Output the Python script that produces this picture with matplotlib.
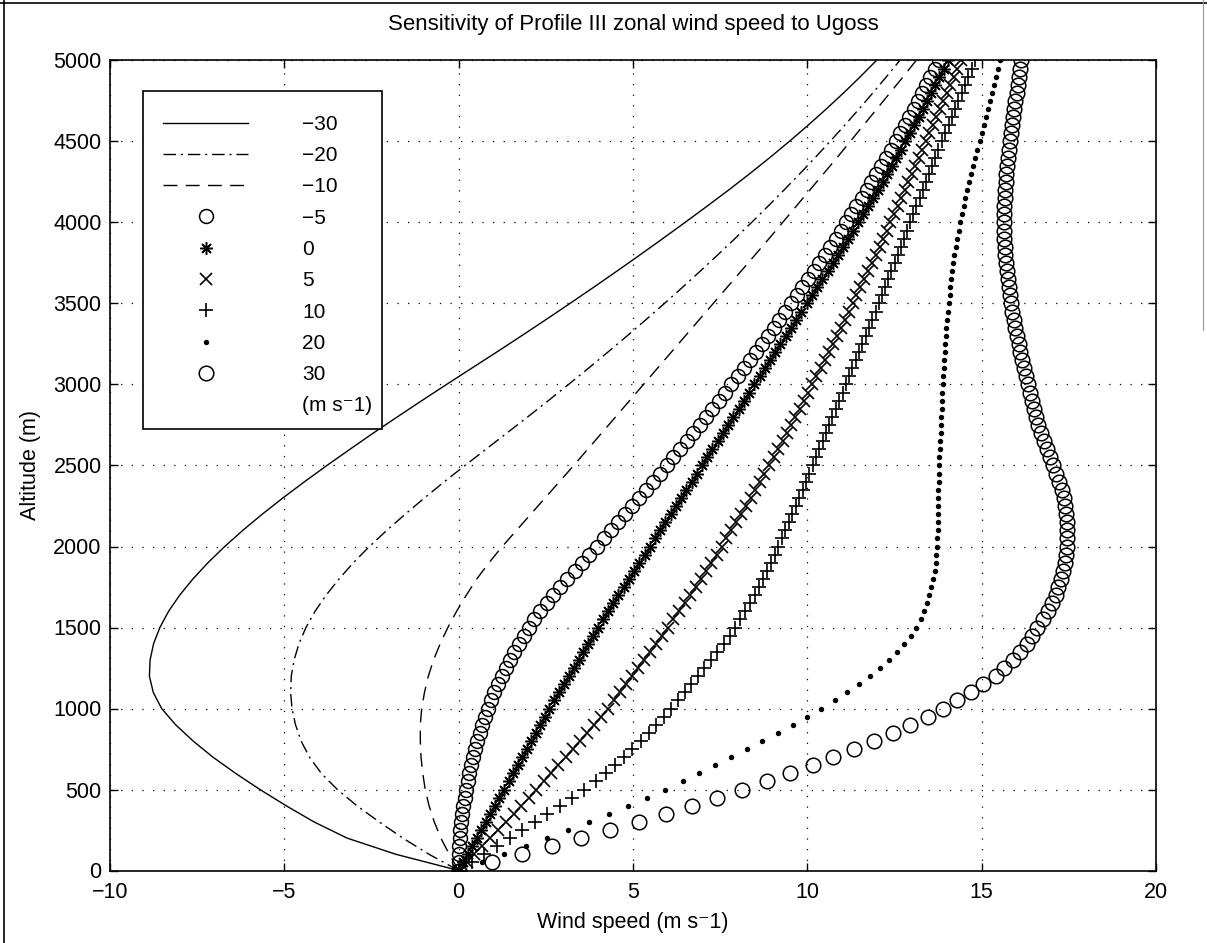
import numpy as np
import matplotlib
matplotlib.use("Agg")
import matplotlib.pyplot as plt
from matplotlib.lines import Line2D
from matplotlib.patches import Rectangle

plt.rcParams['font.family'] = ['Liberation Sans', 'DejaVu Sans']

# ---------------- data ----------------
# altitude levels (m)
alt_line = np.arange(0, 5001, 100)   # line series sampled every 100 m
alt_mark = np.arange(0, 5001, 50)    # marker series sampled every 50 m

u_m30 = [0, -1.8, -3.2, -4.15, -4.95, -5.7, -6.4, -7.05, -7.62, -8.12, -8.52,
         -8.76, -8.87, -8.85, -8.75, -8.57, -8.32, -8.0, -7.62, -7.19, -6.71,
         -6.19, -5.63, -5.04, -4.42, -3.78, -3.12, -2.45, -1.76, -1.06, -0.35,
         0.37, 1.09, 1.8, 2.5, 3.19, 3.87, 4.54, 5.2, 5.85, 6.49,
         7.12, 7.74, 8.34, 8.92, 9.48, 10.02, 10.54, 11.04, 11.52, 11.98]

u_m20 = [0, -0.85, -1.6, -2.28, -2.92, -3.48, -3.94, -4.28, -4.52, -4.68, -4.78,
         -4.82, -4.8, -4.72, -4.58, -4.38, -4.12, -3.8, -3.43, -3.02, -2.56,
         -2.06, -1.53, -0.98, -0.41, 0.18, 0.78, 1.38, 1.98, 2.57, 3.15,
         3.72, 4.28, 4.83, 5.37, 5.9, 6.42, 6.93, 7.43, 7.92, 8.4,
         8.87, 9.33, 9.78, 10.22, 10.65, 11.07, 11.48, 11.88, 12.27, 12.65]

u_m10 = [0, -0.27, -0.51, -0.7, -0.85, -0.96, -1.03, -1.08, -1.1, -1.1, -1.06,
         -0.98, -0.87, -0.72, -0.53, -0.31, -0.06, 0.22, 0.52, 0.87, 1.25,
         1.66, 2.07, 2.48, 2.89, 3.3, 3.7, 4.1, 4.5, 4.9, 5.3,
         5.7, 6.1, 6.5, 6.9, 7.3, 7.7, 8.1, 8.5, 8.9, 9.29,
         9.68, 10.07, 10.46, 10.85, 11.23, 11.61, 11.99, 12.37, 12.75, 13.12]

u_m5 = [0.0, 0.0, 0.01, 0.02, 0.03, 0.05, 0.07, 0.10, 0.13, 0.17,
        0.21, 0.26, 0.31, 0.36, 0.42, 0.48, 0.54, 0.61, 0.68, 0.76,
        0.84, 0.93, 1.02, 1.12, 1.23, 1.35, 1.47, 1.60, 1.73, 1.87,
        2.01, 2.17, 2.34, 2.52, 2.71, 2.91, 3.12, 3.33, 3.54, 3.75,
        3.96, 4.17, 4.38, 4.58, 4.78, 4.98, 5.18, 5.38, 5.58, 5.78,
        5.97, 6.16, 6.35, 6.54, 6.73, 6.92, 7.10, 7.28, 7.46, 7.64,
        7.82, 8.00, 8.18, 8.35, 8.52, 8.69, 8.86, 9.03, 9.20, 9.37,
        9.54, 9.70, 9.86, 10.02, 10.18, 10.34, 10.50, 10.66, 10.81, 10.96,
        11.11, 11.26, 11.41, 11.56, 11.70, 11.84, 11.98, 12.12, 12.26, 12.40,
        12.53, 12.66, 12.79, 12.92, 13.05, 13.17, 13.29, 13.41, 13.53, 13.65,
        13.77]

u_0 = [0, 0.13, 0.26, 0.39, 0.52, 0.65, 0.78, 0.91, 1.04, 1.17,
       1.30, 1.43, 1.56, 1.69, 1.82, 1.95, 2.08, 2.21, 2.34, 2.47,
       2.60, 2.74, 2.88, 3.02, 3.16, 3.30, 3.44, 3.58, 3.72, 3.86,
       4.00, 4.14, 4.28, 4.43, 4.58, 4.73, 4.88, 5.03, 5.18, 5.33,
       5.48, 5.63, 5.78, 5.93, 6.08, 6.23, 6.38, 6.53, 6.68, 6.83,
       6.98, 7.13, 7.28, 7.43, 7.58, 7.73, 7.88, 8.03, 8.18, 8.33,
       8.48, 8.63, 8.78, 8.93, 9.08, 9.23, 9.38, 9.53, 9.68, 9.83,
       9.98, 10.13, 10.28, 10.43, 10.58, 10.73, 10.88, 11.03, 11.18, 11.32,
       11.46, 11.60, 11.74, 11.88, 12.02, 12.16, 12.29, 12.42, 12.55, 12.68,
       12.81, 12.94, 13.07, 13.19, 13.31, 13.43, 13.55, 13.67, 13.79, 13.91,
       14.03]

u_5 = [0, 0.23, 0.45, 0.68, 0.90, 1.13, 1.35, 1.58, 1.80, 2.01,
       2.22, 2.44, 2.65, 2.86, 3.07, 3.28, 3.48, 3.68, 3.88, 4.08,
       4.27, 4.45, 4.63, 4.81, 4.98, 5.15, 5.32, 5.49, 5.66, 5.83,
       5.99, 6.16, 6.32, 6.48, 6.64, 6.80, 6.95, 7.10, 7.25, 7.40,
       7.54, 7.68, 7.82, 7.96, 8.10, 8.24, 8.37, 8.51, 8.64, 8.77,
       8.90, 9.03, 9.16, 9.29, 9.41, 9.54, 9.66, 9.78, 9.90, 10.02,
       10.14, 10.26, 10.38, 10.50, 10.61, 10.73, 10.84, 10.96, 11.07, 11.19,
       11.30, 11.41, 11.52, 11.63, 11.74, 11.85, 11.96, 12.07, 12.17, 12.28,
       12.38, 12.49, 12.59, 12.70, 12.80, 12.90, 13.00, 13.10, 13.20, 13.30,
       13.40, 13.50, 13.60, 13.70, 13.80, 13.90, 14.00, 14.10, 14.20, 14.30,
       14.40]

u_10 = [0, 0.37, 0.74, 1.10, 1.46, 1.82, 2.18, 2.54, 2.90, 3.25,
        3.60, 3.94, 4.22, 4.48, 4.73, 4.98, 5.22, 5.45, 5.67, 5.88,
        6.08, 6.28, 6.48, 6.67, 6.86, 7.05, 7.24, 7.42, 7.60, 7.77,
        7.93, 8.08, 8.22, 8.36, 8.49, 8.61, 8.73, 8.84, 8.95, 9.06,
        9.17, 9.27, 9.37, 9.47, 9.57, 9.67, 9.77, 9.87, 9.97, 10.06,
        10.15, 10.25, 10.34, 10.44, 10.53, 10.63, 10.72, 10.82, 10.91, 11.01,
        11.10, 11.20, 11.29, 11.39, 11.48, 11.58, 11.67, 11.77, 11.86, 11.96,
        12.05, 12.14, 12.23, 12.32, 12.41, 12.50, 12.59, 12.68, 12.77, 12.86,
        12.95, 13.04, 13.13, 13.22, 13.31, 13.40, 13.49, 13.58, 13.67, 13.76,
        13.85, 13.95, 14.05, 14.14, 14.24, 14.33, 14.43, 14.52, 14.62, 14.71,
        14.80]

u_20 = [0, 0.66, 1.31, 1.92, 2.54, 3.14, 3.73, 4.30, 4.86, 5.40,
        5.92, 6.42, 6.88, 7.34, 7.80, 8.26, 8.71, 9.15, 9.58, 10.00,
        10.40, 10.78, 11.14, 11.48, 11.79, 12.08, 12.34, 12.57, 12.78, 12.96,
        13.12, 13.26, 13.36, 13.44, 13.50, 13.56, 13.61, 13.65, 13.68, 13.70,
        13.72, 13.73, 13.74, 13.74, 13.75, 13.75, 13.76, 13.76, 13.77, 13.77,
        13.78, 13.79, 13.80, 13.81, 13.82, 13.83, 13.84, 13.85, 13.86, 13.87,
        13.88, 13.89, 13.91, 13.92, 13.94, 13.95, 13.97, 13.99, 14.01, 14.03,
        14.05, 14.08, 14.10, 14.13, 14.16, 14.19, 14.22, 14.26, 14.30, 14.34,
        14.38, 14.43, 14.48, 14.53, 14.58, 14.64, 14.70, 14.76, 14.82, 14.88,
        14.94, 15.00, 15.06, 15.12, 15.18, 15.24, 15.30, 15.36, 15.42, 15.48,
        15.54]

u_30 = [0, 0.95, 1.83, 2.69, 3.52, 4.35, 5.16, 5.94, 6.70, 7.42,
        8.14, 8.85, 9.50, 10.15, 10.75, 11.35, 11.90, 12.45, 12.95, 13.45,
        13.90, 14.30, 14.70, 15.05, 15.40, 15.65, 15.90, 16.10, 16.30, 16.45,
        16.60, 16.75, 16.90, 17.02, 17.12, 17.20, 17.27, 17.33, 17.38, 17.42,
        17.45, 17.46, 17.46, 17.45, 17.43, 17.40, 17.36, 17.29, 17.22, 17.14,
        17.06, 16.97, 16.88, 16.79, 16.71, 16.63, 16.56, 16.50, 16.44, 16.39,
        16.34, 16.28, 16.22, 16.16, 16.11, 16.06, 16.01, 15.96, 15.92, 15.88,
        15.85, 15.81, 15.78, 15.75, 15.72, 15.70, 15.68, 15.66, 15.65, 15.64,
        15.64, 15.64, 15.65, 15.66, 15.67, 15.69, 15.71, 15.73, 15.75, 15.78,
        15.81, 15.84, 15.87, 15.90, 15.94, 15.97, 16.01, 16.04, 16.07, 16.10,
        16.13]

labels = ['\u221230', '\u221220', '\u221210', '\u22125', '0', '5', '10', '20', '30']
unit_label = '(m s\u207b1)'

x_ticks = [-10, -5, 0, 5, 10, 15, 20]
y_ticks = list(range(0, 5001, 500))

# ---------------- figure ----------------
W, H = 1207, 943
fig = plt.figure(figsize=(W / 100, H / 100), dpi=100)
ax_l, ax_r, ax_t, ax_b = 110, 1156, 60.5, 870.5
ax = fig.add_axes([ax_l / W, 1 - ax_b / H, (ax_r - ax_l) / W, (ax_b - ax_t) / H])

lw = 1.0
k = 'black'
h1, = ax.plot(u_m30, alt_line, '-', color=k, lw=lw)
h2, = ax.plot(u_m20, alt_line, color=k, lw=lw, dashes=(9, 3.5, 1.5, 3.5))
h3, = ax.plot(u_m10, alt_line, color=k, lw=lw, dashes=(10, 6))
h4, = ax.plot(u_m5, alt_mark, 'o', ls='none', ms=10, mfc='none', mec=k, mew=1.1)
h5, = ax.plot(u_0, alt_mark, marker=(8, 2, 0), ls='none', ms=9, mec=k, mew=1.1)
h6, = ax.plot(u_5, alt_mark, 'x', ls='none', ms=8.5, mec=k, mew=1.2)
h7, = ax.plot(u_10, alt_mark, '+', ls='none', ms=10.5, mec=k, mew=1.2)
h8, = ax.plot(u_20, alt_mark, 'o', ls='none', ms=3.9, mfc=k, mec=k, mew=0)
h9, = ax.plot(u_30, alt_mark, 'o', ls='none', ms=10.5, mfc='none', mec=k, mew=1.1)
blank = Line2D([], [], ls='none', marker=None)

ax.set_xlim(-10, 20)
ax.set_ylim(0, 5000)
ax.set_xticks(x_ticks)
ax.set_yticks(y_ticks)
ax.grid(True, color=k, lw=0.9, linestyle=(0, (1, 7.5)))
ax.tick_params(direction='in', top=True, right=True, length=6, width=1.0,
               labelsize=15.5, colors=k)
ax.tick_params(axis='x', pad=8)
ax.tick_params(axis='y', pad=6)
for s in ax.spines.values():
    s.set_linewidth(1.2)

ax.set_title('Sensitivity of Profile III zonal wind speed to Ugoss',
             fontsize=16, pad=22)
ax.set_xlabel('Wind speed ' + unit_label, fontsize=15.5, labelpad=7)
ax.set_ylabel('Altitude (m)', fontsize=15.5, labelpad=9)

leg_left, leg_top = 143, 91
leg = ax.legend([h1, h2, h3, h4, h5, h6, h7, h8, h9, blank],
                labels + [unit_label],
                loc='upper left',
                bbox_to_anchor=(leg_left / W, 1 - (leg_top + 4) / H),
                bbox_transform=fig.transFigure,
                borderaxespad=0, fontsize=15, numpoints=1,
                handlelength=4.1, handletextpad=2.6, labelspacing=0.59,
                borderpad=0.95, frameon=False)

# custom legend frame (tight on the right, like the original)
fig.canvas.draw()
r = fig.canvas.get_renderer()
txt_right = max(t.get_window_extent(r).x1 for t in leg.get_texts())
last_txt = leg.get_texts()[-1].get_window_extent(r)
leg_right = txt_right + 9
leg_bottom_px = last_txt.y0 - 14          # display coords (origin bottom)
fig.add_artist(Rectangle((leg_left / W, leg_bottom_px / H),
                         (leg_right - leg_left) / W,
                         (H - leg_top - leg_bottom_px) / H,
                         transform=fig.transFigure, fill=True, facecolor='white',
                         edgecolor=k, lw=1.2, zorder=2.5))
leg.set_zorder(3)
leg.remove()
fig.add_artist(leg)

# scanned page frame
fig.add_artist(Line2D([4 / W, 4 / W], [0, 1], transform=fig.transFigure, color=k, lw=1.2))
fig.add_artist(Line2D([0, 1], [1 - 2.5 / H, 1 - 2.5 / H], transform=fig.transFigure, color=k, lw=1.2))
fig.add_artist(Line2D([1203 / W, 1203 / W], [1, 1 - 330 / H], transform=fig.transFigure,
                      color='#999999', lw=0.8))

fig.savefig('out.png', dpi=100)
